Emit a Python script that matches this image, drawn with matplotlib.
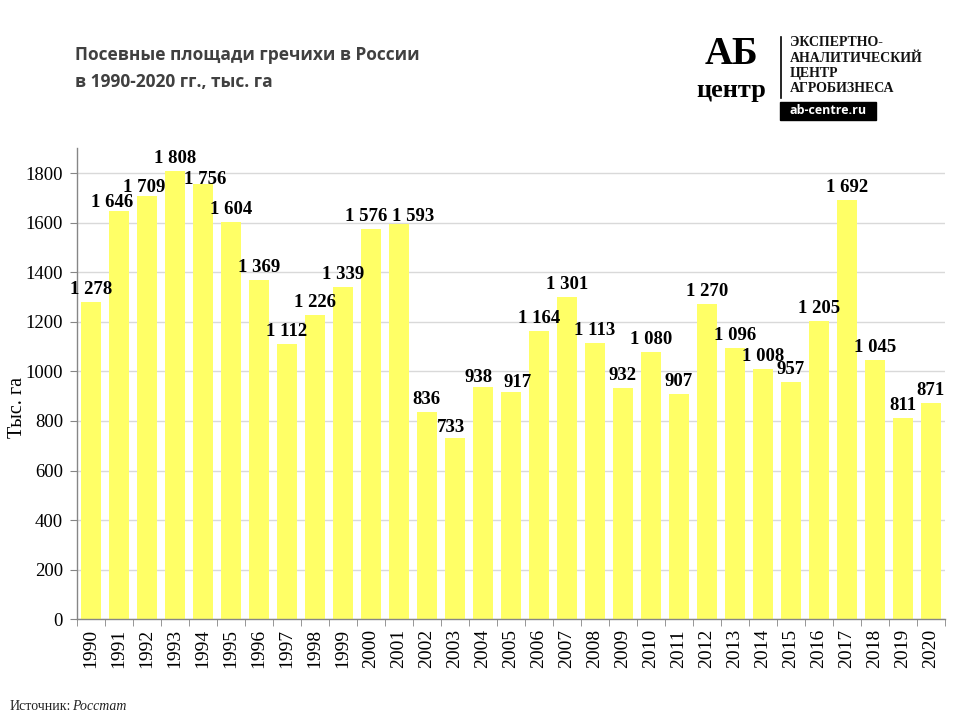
import matplotlib
matplotlib.use("Agg")
import matplotlib.pyplot as plt
from matplotlib.patches import Rectangle
import numpy as np

years = [str(y) for y in range(1990, 2021)]
values = [1278, 1646, 1709, 1808, 1756, 1604, 1369, 1112, 1226, 1339,
          1576, 1593, 836, 733, 938, 917, 1164, 1301, 1113, 932,
          1080, 907, 1270, 1096, 1008, 957, 1205, 1692, 1045, 811, 871]
yticks = [0, 200, 400, 600, 800, 1000, 1200, 1400, 1600, 1800]

title_lines = ["Посевные площади гречихи в России", "в 1990-2020 гг., тыс. га"]
ylabel = "Тыс. га"

# label position nudges (points): (dx, dy)
nudge = {0: (0, 0), 1: (-5, -3), 2: (-2, -3), 4: (2, -6), 10: (-3, 0), 11: (10, -3),
         14: (-3, -2), 15: (5, -2), 13: (-3, -2)}

fig = plt.figure(figsize=(9.6, 7.2), dpi=100)
ax = fig.add_axes([0.080, 0.140, 0.904, 0.654])

x = np.arange(len(values))
ax.bar(x, values, width=0.72, color="#FFFF66", zorder=2)

ax.set_xlim(-0.5, len(values) - 0.5)
ax.set_ylim(0, 1900)
ax.set_yticks(yticks)
ax.set_yticklabels([str(v) for v in yticks], family="Liberation Serif", fontsize=13.5)
ax.yaxis.grid(True, color="#d9d9d9", linewidth=1, zorder=0)
ax.set_axisbelow(True)

ax.set_xticks(x)
ax.set_xticklabels(years, rotation=90, family="Liberation Serif", fontsize=14)
ax.tick_params(axis="x", which="major", length=0, pad=7)
ax.set_xticks(np.arange(-0.5, len(values) + 0.5, 1), minor=True)
ax.tick_params(axis="x", which="minor", length=5, color="#868686", direction="out")
ax.tick_params(axis="y", length=5, color="#868686", direction="out", pad=5)

for s in ["top", "right"]:
    ax.spines[s].set_visible(False)
for s in ["left", "bottom"]:
    ax.spines[s].set_color("#868686")
    ax.spines[s].set_linewidth(1)

ax.set_ylabel(ylabel, family="Liberation Serif", fontsize=14.5)
ax.yaxis.set_label_coords(-0.057, 0.45)

for i, v in enumerate(values):
    s = f"{v:,}".replace(",", " ")
    dx, dy = nudge.get(i, (0, 0))
    ax.annotate(s, (i, v), xytext=(dx, 9 + dy), textcoords="offset points",
                ha="center", va="center", family="Liberation Serif",
                fontweight="bold", fontsize=13.5, zorder=3)

# Title
fig.text(75 / 960, 1 - 55 / 720, title_lines[0], family="Open Sans", fontweight="bold",
         fontsize=12.5, color="#404040", va="center")
fig.text(75 / 960, 1 - 82 / 720, title_lines[1], family="Open Sans", fontweight="bold",
         fontsize=12.5, color="#404040", va="center")

# Logo
fig.text(731 / 960, 1 - 55 / 720, "АБ", family="Liberation Serif", fontweight="bold",
         fontsize=28, color="black", ha="center", va="center")
fig.text(731 / 960, 1 - 91 / 720, "центр", family="Liberation Serif", fontweight="bold",
         fontsize=19, color="black", ha="center", va="center")
fig.add_artist(plt.Line2D([781 / 960, 781 / 960], [1 - 37 / 720, 1 - 98 / 720],
                          color="black", linewidth=1.2, transform=fig.transFigure))
for k, t in enumerate(["ЭКСПЕРТНО-", "АНАЛИТИЧЕСКИЙ", "ЦЕНТР", "АГРОБИЗНЕСА"]):
    fig.text(790 / 960, 1 - (43 + k * 15.3) / 720, t, family="Liberation Serif",
             fontweight="bold", fontsize=10, color="#111111", va="center")
fig.add_artist(Rectangle((780 / 960, 1 - 120 / 720), 96 / 960, 18 / 720,
                         transform=fig.transFigure, color="black"))
fig.text(828 / 960, 1 - 111 / 720, "ab-centre.ru", family="Open Sans", fontweight="bold",
         fontsize=9, color="white", ha="center", va="center")

# Source
fig.text(10 / 960, 1 - 707 / 720, "Источник:", family="Liberation Serif",
         fontsize=10, color="#222222", va="center")
fig.text(72 / 960, 1 - 707 / 720, "Росстат", family="Liberation Serif", style="italic",
         fontsize=10, color="#222222", va="center")

fig.savefig("out.png", dpi=100)
